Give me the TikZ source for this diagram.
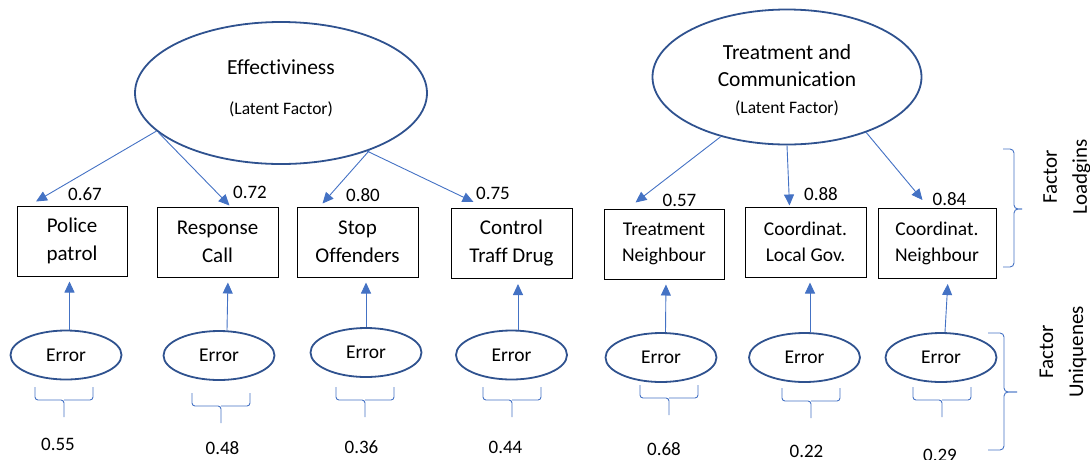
\documentclass[tikz,border=0pt]{standalone}
\usepackage{fontspec}
\setmainfont{Carlito}[Ligatures=NoCommon]
\usetikzlibrary{shapes.geometric, arrows.meta}

\definecolor{ellblue}{RGB}{47,82,143}
\definecolor{arrblue}{RGB}{68,114,196}

\begin{document}
\begin{tikzpicture}[x=1pt, y=-1pt,
		latent/.style={ellipse, draw=ellblue, line width=1.8pt, inner sep=0pt},
		title/.style={align=center, font=\fontsize{21.5}{27}\selectfont},
		indic/.style={rectangle, draw=black, line width=1pt, align=center, minimum width=121pt, minimum height=70pt, font=\fontsize{21}{28}\selectfont},
		indicsm/.style={indic, font=\fontsize{19.5}{26}\selectfont},
		errnode/.style={ellipse, draw=ellblue, line width=1.8pt, inner sep=0pt, minimum width=111pt, minimum height=49pt, font=\fontsize{19.5}{23}\selectfont},
		num/.style={font=\fontsize{19}{23}\selectfont},
		sidetext/.style={rotate=90, align=center, font=\fontsize{21}{30}\selectfont},
		loading/.style={arrblue, line width=0.9pt, -{Triangle[length=11pt, width=10pt]}},
		bracket/.style={arrblue, line width=0.9pt, rounded corners=4pt},
		ubrace/.pic={
			\draw[bracket, rounded corners=3pt] (-29,0) |- (0,13) -- (0,30);
			\draw[bracket, rounded corners=3pt] (29,0) |- (0,13);
		}]
		\def\latentfont{\fontsize{17.5}{20}\selectfont}
		
		\useasboundingbox (0,0) rectangle (1090,459);
		
		% latent factors
		\node[latent, minimum width=292pt, minimum height=142pt] (eff) at (281,93) {};
		\node[title] (efftext) at (281,88) {Effectiviness\\[13pt]{\latentfont (Latent Factor)}};
		\node[latent, minimum width=269pt, minimum height=135pt] (trt) at (787,77) {};
		\node[title] (trttext) at (787,80) {Treatment and\\Communication\\{\latentfont (Latent Factor)}};
		
		% observed items
		\node[indic, minimum width=110pt] (b1) at (72,241) {Police\\patrol};
		\node[indic] (b2) at (217.5,242) {Response\\Call};
		\node[indic] (b3) at (357.5,242) {Stop\\Offenders};
		\node[indic] (b4) at (511.5,243.5) {Control\\Traff Drug};
		\node[indicsm, minimum width=120pt] (b5) at (664,244) {Treatment\\Neighbour};
		\node[indicsm] (b6) at (805.5,242) {Coordinat.\\Local Gov.};
		\node[indicsm, minimum width=118pt] (b7) at (937,243.5) {Coordinat.\\Neighbour};
		
		% errors
		\foreach \i/\x/\y in {1/66/355, 2/219/355.5, 3/366/352.5, 4/511.5/355, 5/661/357.5, 6/804.5/357.5, 7/941/357.5}
			\node[errnode] (e\i) at (\x,\y) {Error};
		
		% factor loadings
		\begin{scope}[loading]
			\draw (eff.197) -- ([xshift=19.5pt, yshift=4pt]b1.north west);
			\draw (eff.198) -- ([xshift=73pt, yshift=1pt]b2.north west);
			\draw (eff.327) -- ([xshift=26pt, yshift=3pt]b3.north west);
			\draw (eff.326) -- ([xshift=23pt, yshift=6pt]b4.north west);
			\draw (trt.222) -- ([xshift=32pt, yshift=6pt]b5.north west);
			\draw (trt.270) -- ([xshift=45pt, yshift=1pt]b6.north west);
			\draw (trt.325) -- ([xshift=45pt, yshift=8pt]b7.north west);
		\end{scope}
		
		\foreach \i/\x/\y/\v in {1/85/194/0.67, 2/250/192/0.72, 3/363/195/0.80, 4/493/193.5/0.75, 5/679.5/200/0.57, 6/821/194/0.88, 7/949.5/199.5/0.84}
			\node[num] (l\i) at (\x,\y) {\v};
		
		% uniqueness
		\foreach \i/\dx/\tx in {1/3.5/3.5, 2/8/9, 3/0/0, 4/6.5/6.5, 5/4.5/5, 6/5.5/5.5, 7/4/7}
			\draw[loading, shorten >=5pt] ([xshift=\dx pt]e\i.north) -- ([xshift=\tx pt]e\i.north |- b\i.south);
		
		\foreach \x/\y in {64/387, 221/393, 365/387, 512/387, 669/385, 811/388, 942/387}
			\pic at (\x,\y) {ubrace};
		
		\foreach \i/\x/\y/\v in {1/58/444/0.55, 2/222.5/448/0.48, 3/361.5/447/0.36, 4/505.5/447/0.44, 5/664/449.5/0.68, 6/806.5/451/0.22, 7/940/455/0.29}
			\node[num] (u\i) at (\x,\y) {\v};
		
		% side brackets
		\draw[bracket] (1003,149) -| (1014,209) -- (1022,209);
		\draw[bracket] (1003,267) -| (1014,209) -- (1022,209);
		\draw[bracket] (988,333) -| (1004,392) -- (1017,392);
		\draw[bracket] (988,450) -| (1004,392) -- (1017,392);
		
		\node[sidetext] (fl) at (1067,177) {Factor\\Loadgins};
		\node[sidetext] (fu) at (1063,352) {Factor\\Uniquenes};
	\end{tikzpicture}
\end{document}
